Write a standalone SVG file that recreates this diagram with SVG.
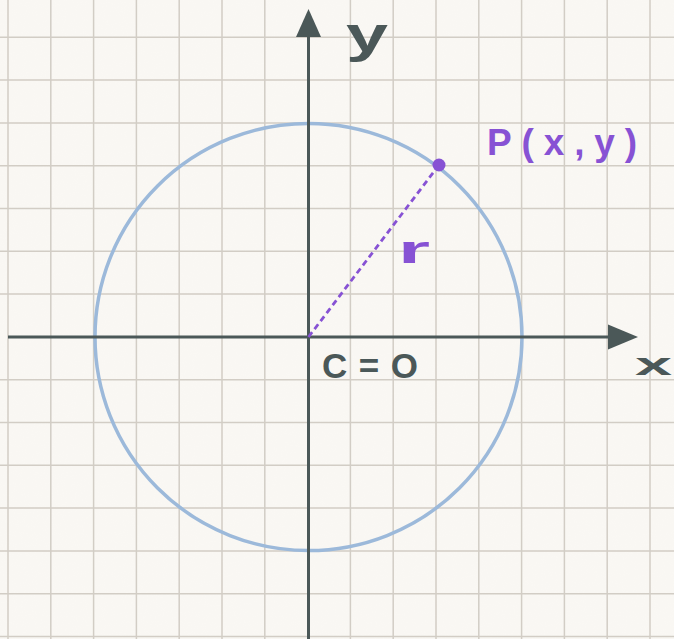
<svg xmlns="http://www.w3.org/2000/svg" width="674" height="639" viewBox="0 0 674 639">
  <style>
    .grid { stroke: #d2cdc5; stroke-width: 1.5; fill: none; }
    .axis { stroke: #4b5858; stroke-width: 3; fill: none; }
    .head { fill: #4b5858; }
    .dark { fill: #4b5858; font-family: "Liberation Sans", Arial, sans-serif; font-weight: bold; }
    .purple { fill: #8752d4; font-family: "Liberation Sans", Arial, sans-serif; font-weight: bold; }
  </style>
  <defs>
    <filter id="paper" x="0" y="0" width="100%" height="100%">
      <feTurbulence type="fractalNoise" baseFrequency="0.9" numOctaves="2" seed="3" result="n"/>
      <feColorMatrix type="matrix" values="0 0 0 0 0.6  0 0 0 0 0.58  0 0 0 0 0.55  0 0 0 0.03 0"/>
    </filter>
  </defs>
  <rect width="674" height="639" fill="#faf8f4"/>
  <rect width="674" height="639" filter="url(#paper)"/>
  <path class="grid" d="M8 0V639M50.8 0V639M93.6 0V639M136.4 0V639M179.2 0V639M222 0V639M264.8 0V639M350.4 0V639M393.2 0V639M436 0V639M478.8 0V639M521.6 0V639M564.4 0V639M607.2 0V639M650 0V639
    M0 37.3H674M0 80.1H674M0 122.9H674M0 165.7H674M0 208.5H674M0 251.3H674M0 294.1H674M0 379.7H674M0 422.5H674M0 465.3H674M0 508.1H674M0 550.9H674M0 593.7H674M0 636.5H674"/>
  <g id="circle">
    <circle cx="308.5" cy="337" r="213.5" fill="none" stroke="#9cb9da" stroke-width="3.5"/>
  </g>
  <g id="connectors">
    <path class="axis" d="M8 337H612"/>
    <polygon class="head" points="608,324.5 638,337 608,349.5"/>
    <path class="axis" d="M308.5 639V34"/>
    <polygon class="head" points="296,37 308.5,9 321,37"/>
    <path d="M308.5 337L439 165" stroke="#8752d4" stroke-width="2.8" stroke-dasharray="6 4" fill="none"/>
  </g>
  <g id="point-P">
    <circle cx="439" cy="165" r="6.5" fill="#8752d4"/>
    <text class="purple" x="487" y="155" font-size="37" textLength="150" lengthAdjust="spacing">P(x,y)</text>
  </g>
  <g id="radius-label">
    <text class="purple" x="398" y="263" font-size="38" textLength="32" lengthAdjust="spacingAndGlyphs">r</text>
  </g>
  <g id="center-label">
    <text class="dark" x="322" y="378" font-size="35" textLength="96" lengthAdjust="spacing">C = O</text>
  </g>
  <g id="x-label">
    <text class="dark" x="635" y="375" font-size="32" textLength="37" lengthAdjust="spacingAndGlyphs">x</text>
  </g>
  <g id="y-label">
    <text class="dark" x="346" y="52" font-size="50" textLength="42" lengthAdjust="spacingAndGlyphs">y</text>
  </g>
</svg>
